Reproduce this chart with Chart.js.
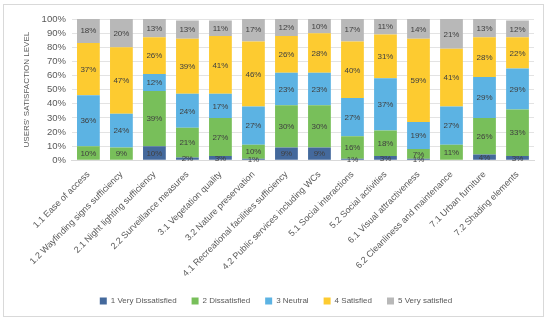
<!DOCTYPE html>
<html><head><meta charset="utf-8">
<script src="https://cdn.jsdelivr.net/npm/chart.js@4/dist/chart.umd.min.js"></script>
<style>
html,body{margin:0;padding:0;background:#fff;}
#wrap{position:relative;width:550px;height:323px;}
#frame{position:absolute;left:3px;top:4px;width:541px;height:313px;border:1px solid #d9d9d9;box-sizing:border-box;}
canvas{position:absolute;left:0;top:0;}
</style></head>
<body>
<div id="wrap"><div id="frame"></div><canvas id="c" width="550" height="323"></canvas></div>
<script>
const categories = ["1.1 Ease of access","1.2 Wayfinding signs sufficiency","2.1 Night lighting sufficiency","2.2 Surveillance measures","3.1 Vegetation quality","3.2 Nature preservation","4.1 Recreational facilities sufficiency","4.2 Public services including WCs","5.1 Social interactions","5.2 Social activities","6.1 Visual attractiveness","6.2 Cleanliness and maintenance","7.1 Urban furniture","7.2 Shading elements"];
const veryDissatisfied = [0,0,10,2,3,1,9,9,1,3,1,0,4,3];
const dissatisfied     = [10,9,39,21,27,10,30,30,16,18,7,11,26,33];
const neutral          = [36,24,12,24,17,27,23,23,27,37,19,27,29,29];
const satisfied        = [37,47,26,39,41,46,26,28,40,31,59,41,28,22];
const verySatisfied    = [18,20,13,13,11,17,12,10,17,11,14,21,13,12];
const seriesNames = ["1 Very Dissatisfied","2 Dissatisfied","3 Neutral","4 Satisfied","5 Very satisfied"];
const yTickValues = [0,10,20,30,40,50,60,70,80,90,100];
const colors = ["#44699c","#78bf5a","#5cb3e3","#fdcb30","#b8b8b8"];
const series = [veryDissatisfied,dissatisfied,neutral,satisfied,verySatisfied];
const FONT = '"Liberation Sans", Arial, sans-serif';

const labelPlugin = {
  id:'segLabels',
  afterDatasetsDraw(chart){
    const ctx = chart.ctx;
    ctx.save();
    ctx.font = '8px ' + FONT;
    ctx.fillStyle = '#404040';
    ctx.textAlign = 'center';
    ctx.textBaseline = 'middle';
    chart.data.datasets.forEach((ds,i)=>{
      const meta = chart.getDatasetMeta(i);
      meta.data.forEach((bar,j)=>{
        const v = ds.data[j];
        if(!v) return;
        const y = (bar.y + bar.base)/2;
        ctx.fillText(v+'%', bar.x, y+0.5);
      });
    });
    ctx.restore();
  }
};

new Chart(document.getElementById('c'),{
  type:'bar',
  data:{
    labels:categories,
    datasets:series.map((d,i)=>({label:seriesNames[i],data:d,backgroundColor:colors[i],borderWidth:0,categoryPercentage:0.69,barPercentage:1}))
  },
  options:{
    responsive:false,animation:false,
    layout:{padding:{left:18,right:16,top:19,bottom:8}},
    plugins:{
      legend:{position:'bottom',labels:{boxWidth:7,boxHeight:7,padding:15,color:'#595959',font:{size:8,family:FONT}}},
      tooltip:{enabled:false}
    },
    scales:{
      x:{stacked:true,grid:{display:false},border:{color:'#d9d9d9'},
         afterFit(axis){axis.height += 2;},
         ticks:{minRotation:45,maxRotation:45,color:'#595959',padding:1,font:{size:9,family:FONT}}},
      y:{stacked:true,min:0,max:100,
         afterBuildTicks(axis){axis.ticks = yTickValues.map(v=>({value:v}));},
         grid:{color:'#e3e3e3',drawTicks:false},border:{display:false},
         ticks:{autoSkip:false,padding:6,color:'#595959',font:{size:9.5,family:FONT},callback:v=>v+'%'},
         title:{display:true,text:"USERS' SATISFACTION LEVEL",color:'#595959',font:{size:8,family:FONT},padding:{bottom:4}}}
    }
  },
  plugins:[labelPlugin]
});
</script>
</body></html>
